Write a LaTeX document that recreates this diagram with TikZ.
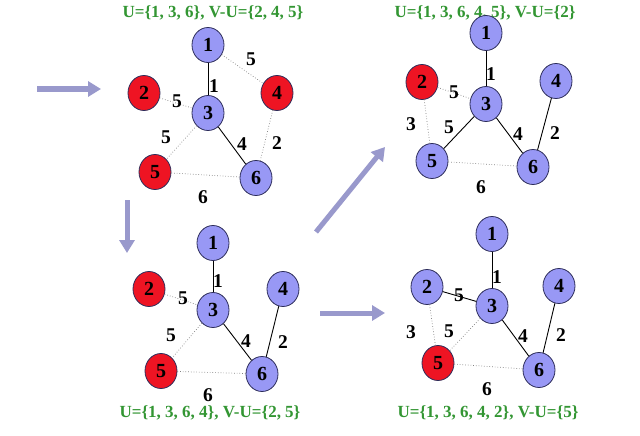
\documentclass[tikz,border=0pt]{standalone}
\usepackage{fontspec}
\setmainfont{Liberation Serif}
\usetikzlibrary{shapes.geometric,arrows.meta}
\definecolor{vblue}{RGB}{152,152,245}
\definecolor{vred}{RGB}{238,20,35}
\definecolor{vborder}{RGB}{45,45,90}
\definecolor{tgreen}{RGB}{51,150,51}
\definecolor{arr}{RGB}{153,153,204}
\tikzset{
  vtx/.style={ellipse,draw=vborder,line width=0.8pt,minimum width=32pt,minimum height=35pt,inner sep=0pt,font=\fontsize{20}{20}\selectfont\bfseries},
  vb/.style={vtx,fill=vblue},
  vr/.style={vtx,fill=vred},
  sol/.style={draw=black,line width=0.9pt},
  dotedge/.style={draw=gray,line width=0.7pt,dotted},
  lab/.style={font=\fontsize{19.5}{19.5}\selectfont\bfseries,inner sep=0pt},
  ttl/.style={font=\fontsize{17}{17}\selectfont\bfseries,text=tgreen,inner sep=0pt},
  bigarrow/.style={draw=arr,line width=5pt,-{Triangle[width=15pt,length=13pt]}}
}
\begin{document}
\begin{tikzpicture}[x=1pt,y=-1pt]
\useasboundingbox[fill=white] (0,0) rectangle (640,436);
% ---- panel A (top left)
\node[ttl] (tA) at (213,13) {U=\{1, 3, 6\}, V-U=\{2, 4, 5\}};
\node[vb] (a1) at (208,45) {1};
\node[vr] (a2) at (144,93) {2};
\node[vr] (a4) at (277,93) {4};
\node[vb] (a3) at (208,113) {3};
\node[vr] (a5) at (155,172) {5};
\node[vb] (a6) at (256,178) {6};
\draw[sol] (a1) -- (a3);
\draw[dotedge] (a1) -- (a4);
\draw[dotedge] (a2) -- (a3);
\draw[dotedge] (a3) -- (a5);
\draw[sol] (a3) -- (a6);
\draw[dotedge] (a4) -- (a6);
\draw[dotedge] (a5) -- (a6);
\node[lab] (la14) at (251,59) {5};
\node[lab] (la13) at (214,86) {1};
\node[lab] (la23) at (177,101) {5};
\node[lab] (la35) at (166,137) {5};
\node[lab] (la36) at (242,144) {4};
\node[lab] (la46) at (277,143) {2};
\node[lab] (la56) at (203,197) {6};
% ---- panel B (top right)
\node[ttl] (tB) at (485,13) {U=\{1, 3, 6, 4, 5\}, V-U=\{2\}};
\node[vb] (b1) at (486,33) {1};
\node[vr] (b2) at (422,82) {2};
\node[vb] (b4) at (556,81) {4};
\node[vb] (b3) at (486,104) {3};
\node[vb] (b5) at (432,161) {5};
\node[vb] (b6) at (533,167) {6};
\draw[sol] (b1) -- (b3);
\draw[dotedge] (b2) -- (b3);
\draw[dotedge] (b2) -- (b5);
\draw[sol] (b3) -- (b5);
\draw[sol] (b3) -- (b6);
\draw[sol] (b4) -- (b6);
\draw[dotedge] (b5) -- (b6);
\node[lab] (lb13) at (491,74) {1};
\node[lab] (lb23) at (454,92) {5};
\node[lab] (lb25) at (411,124) {3};
\node[lab] (lb35) at (449,127) {5};
\node[lab] (lb36) at (518,134) {4};
\node[lab] (lb46) at (555,133) {2};
\node[lab] (lb56) at (481,187) {6};
% ---- panel C (bottom left)
\node[vb] (c1) at (213,243) {1};
\node[vr] (c2) at (149,289) {2};
\node[vb] (c4) at (283,289) {4};
\node[vb] (c3) at (213,310) {3};
\node[vr] (c5) at (161,371) {5};
\node[vb] (c6) at (262,374) {6};
\draw[sol] (c1) -- (c3);
\draw[dotedge] (c2) -- (c3);
\draw[dotedge] (c3) -- (c5);
\draw[sol] (c3) -- (c6);
\draw[sol] (c4) -- (c6);
\draw[dotedge] (c5) -- (c6);
\node[lab] (lc13) at (218,281) {1};
\node[lab] (lc23) at (183,298) {5};
\node[lab] (lc35) at (171,335) {5};
\node[lab] (lc36) at (246,341) {4};
\node[lab] (lc46) at (283,342) {2};
\node[lab] (lc56) at (208,395) {6};
\node[ttl] (tC) at (210,413) {U=\{1, 3, 6, 4\}, V-U=\{2, 5\}};
% ---- panel D (bottom right)
\node[vb] (d1) at (492,234) {1};
\node[vb] (d2) at (427,287) {2};
\node[vb] (d4) at (559,286) {4};
\node[vb] (d3) at (492,306) {3};
\node[vr] (d5) at (438,363) {5};
\node[vb] (d6) at (539,370) {6};
\draw[sol] (d1) -- (d3);
\draw[sol] (d2) -- (d3);
\draw[dotedge] (d2) -- (d5);
\draw[dotedge] (d3) -- (d5);
\draw[sol] (d3) -- (d6);
\draw[sol] (d4) -- (d6);
\draw[dotedge] (d5) -- (d6);
\node[lab] (ld13) at (497,277) {1};
\node[lab] (ld23) at (459,295) {5};
\node[lab] (ld25) at (411,332) {3};
\node[lab] (ld35) at (449,331) {5};
\node[lab] (ld36) at (523,336) {4};
\node[lab] (ld46) at (561,335) {2};
\node[lab] (ld56) at (487,389) {6};
\node[ttl] (tD) at (488,413) {U=\{1, 3, 6, 4, 2\}, V-U=\{5\}};
% ---- arrows
\coordinate (p1s) at (37,89);
\coordinate (p1e) at (101,89);
\coordinate (p2s) at (127,200);
\coordinate (p2e) at (127,253);
\coordinate (p3s) at (316,232);
\coordinate (p3e) at (385,147);
\coordinate (p4s) at (320,313);
\coordinate (p4e) at (385,313);
\draw[bigarrow] (p1s) -- (p1e);
\draw[bigarrow] (p2s) -- (p2e);
\draw[bigarrow] (p3s) -- (p3e);
\draw[bigarrow] (p4s) -- (p4e);
\end{tikzpicture}
\end{document}
